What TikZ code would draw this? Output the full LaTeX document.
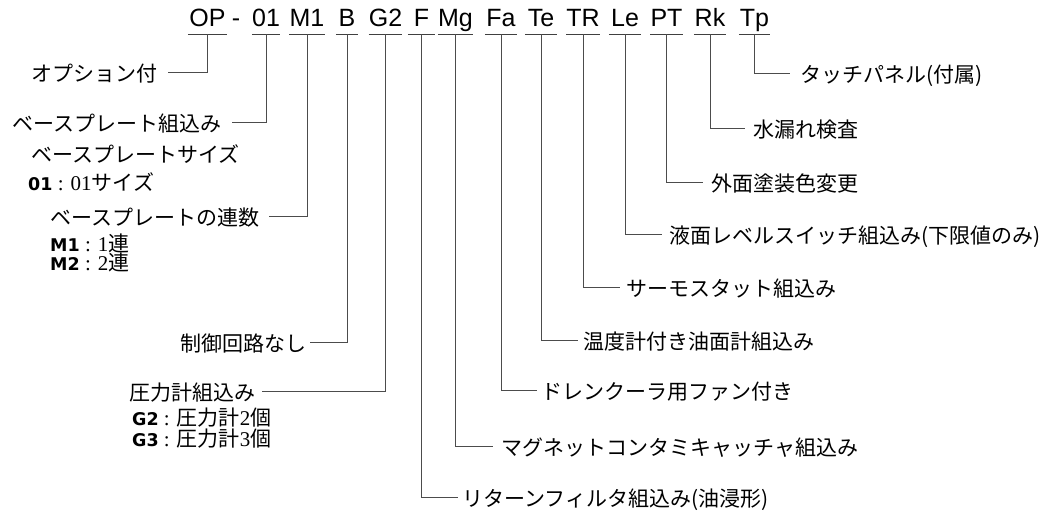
\documentclass[tikz,border=0pt]{standalone}
\usepackage{fontspec}
\setmainfont{Liberation Serif}
\newfontfamily\jp{Noto Sans CJK JP}
\newfontfamily\hv{Liberation Sans}
\newfontfamily\dv{DejaVu Sans}
\newcommand{\subkey}[1]{{\dv\bfseries\fontsize{17.5}{17.5}\selectfont #1}}
\begin{document}
\begin{tikzpicture}[x=1pt,y=-1pt,
  code/.style={font=\hv\fontsize{25}{25}\selectfont, inner sep=0pt, text height=19pt, text depth=7pt, minimum width=31pt, anchor=base},
  lab/.style={font=\jp\fontsize{21}{21}\selectfont, inner ysep=0pt, inner xsep=8pt, text height=20pt, text depth=1pt},
  sublab/.style={font=\fontsize{21}{21}\selectfont, inner sep=0pt, anchor=west},
  conn/.style={draw=black!70, line width=0.9pt},
  uline/.style={draw=black!75, line width=0.9pt}]
\useasboundingbox (0,0) rectangle (1048,511);

% codes
\node[code, minimum width=39pt] (op) at (207.5,27) {OP};
\node[code, minimum width=8pt] (dash) at (236,27) {-};
\node[code, minimum width=28pt] (c01) at (266,27) {01};
\node[code, minimum width=30pt] (m1) at (307,27) {M1};
\node[code, minimum width=22pt] (b) at (347,27) {B};
\node[code, minimum width=29pt] (g2) at (385.5,27) {G2};
\node[code, minimum width=27pt] (f) at (421.5,27) {F};
\node[code] (mg) at (455.5,27) {Mg};
\node[code, minimum width=32pt] (fa) at (501,27) {Fa};
\node[code, minimum width=32pt] (te) at (541,27) {Te};
\node[code, minimum width=32pt] (tr) at (583,27) {TR};
\node[code, minimum width=32pt] (le) at (625,27) {Le};
\node[code] (pt) at (666.5,27) {PT};
\node[code, minimum width=32pt] (rk) at (710,27) {Rk};
\node[code] (tp) at (754.5,27) {Tp};
\foreach \n in {op,c01,m1,b,g2,f,mg,fa,te,tr,le,pt,rk,tp}
  \draw[uline] (\n.south west) -- (\n.south east);

% left labels
\node[lab, anchor=east, inner xsep=10pt] (lop) at (168,72) {オプション付};
\node[lab, anchor=east, inner xsep=10pt] (l01) at (232,122) {ベースプレート組込み};
\node[lab, anchor=west, inner xsep=0pt] (l01a) at (31,153) {ベースプレートサイズ};
\node[sublab] (l01b) at (28,182) {\subkey{01} : 01{\jp サイズ}};
\node[lab, anchor=east, inner xsep=9pt] (lm1) at (269,216) {ベースプレートの連数};
\node[sublab] (lm1a) at (50,243) {\subkey{M1} : 1{\jp 連}};
\node[sublab] (lm1b) at (50,262) {\subkey{M2} : 2{\jp 連}};
\node[lab, anchor=east, inner xsep=3pt] (lb) at (310,342) {制御回路なし};
\node[lab, anchor=east, inner xsep=6pt] (lg2) at (262,391) {圧力計組込み};
\node[sublab] (lg2a) at (132,418) {\subkey{G2} : {\jp 圧力計}2{\jp 個}};
\node[sublab] (lg2b) at (132,439) {\subkey{G3} : {\jp 圧力計}3{\jp 個}};

% right labels
\node[lab, anchor=west, inner xsep=10pt] (ltp) at (790,73) {タッチパネル(付属)};
\node[lab, anchor=west] (lrk) at (745,128) {水漏れ検査};
\node[lab, anchor=west] (lpt) at (703,182) {外面塗装色変更};
\node[lab, anchor=west, inner xsep=7pt] (lle) at (662,234) {液面レベルスイッチ組込み(下限値のみ)};
\node[lab, anchor=west, inner xsep=6pt] (ltr) at (620,287) {サーモスタット組込み};
\node[lab, anchor=west, inner xsep=5pt] (lte) at (578,340) {温度計付き油面計組込み};
\node[lab, anchor=west, inner xsep=4pt] (lfa) at (537,390) {ドレンクーラ用ファン付き};
\node[lab, anchor=west, inner xsep=8pt] (lmg) at (493,446) {マグネットコンタミキャッチャ組込み};
\node[lab, anchor=west, inner xsep=4pt] (lf) at (458,497) {リターンフィルタ組込み(油浸形)};

% connectors
\draw[conn] (op.south) |- (lop.east);
\draw[conn] (c01.south) |- (l01.east);
\draw[conn] (m1.south) |- (lm1.east);
\draw[conn] (b.south) |- (lb.east);
\draw[conn] (g2.south) |- (lg2.east);
\draw[conn] (tp.south) |- (ltp.west);
\draw[conn] (rk.south) |- (lrk.west);
\draw[conn] (pt.south) |- (lpt.west);
\draw[conn] (le.south) |- (lle.west);
\draw[conn] (tr.south) |- (ltr.west);
\draw[conn] (te.south) |- (lte.west);
\draw[conn] (fa.south) |- (lfa.west);
\draw[conn] (mg.south) |- (lmg.west);
\draw[conn] (f.south) |- (lf.west);
\end{tikzpicture}
\end{document}
